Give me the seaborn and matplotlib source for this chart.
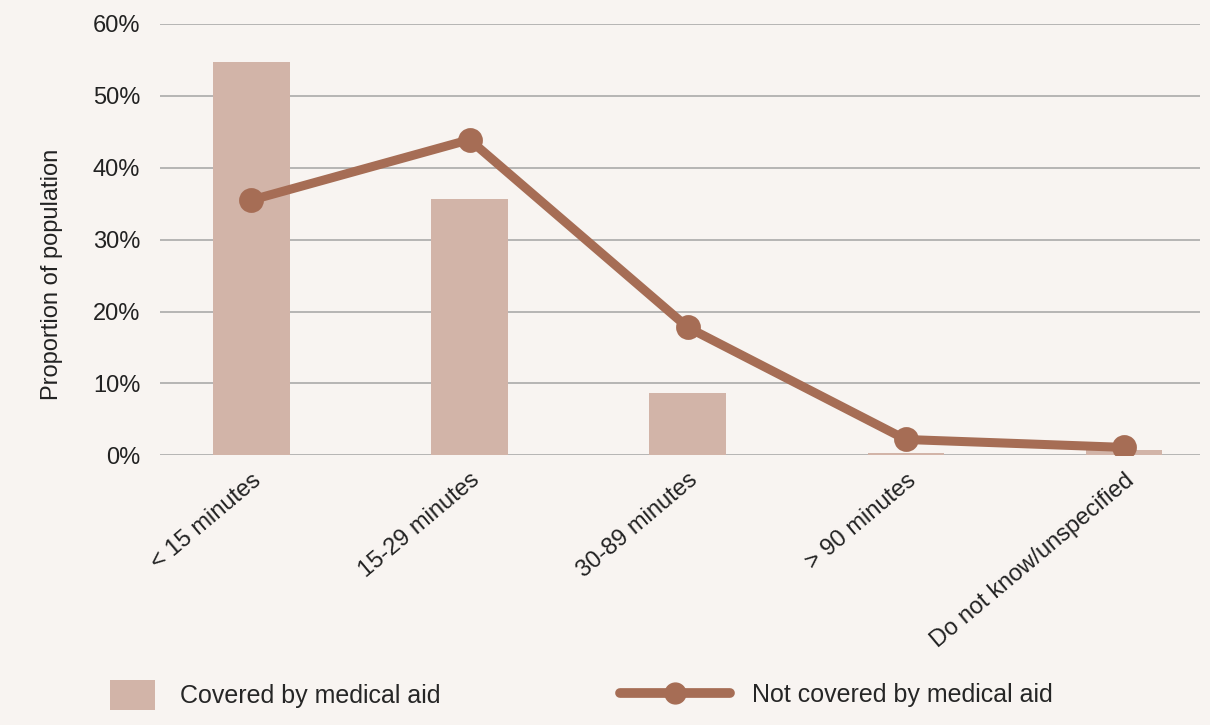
import seaborn as sns
import matplotlib.pyplot as plt
import pandas as pd
from matplotlib.patches import Patch
from matplotlib.lines import Line2D

categories = ["< 15 minutes", "15-29 minutes", "30-89 minutes", "> 90 minutes", "Do not know/unspecified"]
covered = [54.7, 35.7, 8.6, 0.3, 0.7]
not_covered = [35.5, 43.9, 17.8, 2.2, 1.1]
yticks = [0, 10, 20, 30, 40, 50, 60]

bg = "#f8f4f1"
bar_col = "#d2b4a8"
line_col = "#a66d55"
txt = "#222222"

sns.set_style("white")
plt.rcParams["font.family"] = ["Liberation Sans", "DejaVu Sans"]

df = pd.DataFrame({"cat": categories, "covered": covered, "not_covered": not_covered})

fig = plt.figure(figsize=(12.1, 7.25), dpi=100, facecolor=bg)
ax = fig.add_axes([0.132, 0.372, 0.86, 0.595])
ax.set_facecolor(bg)

sns.barplot(data=df, x="cat", y="covered", color=bar_col, width=0.35, saturation=1,
            linewidth=0, ax=ax, zorder=2)
sns.pointplot(data=df, x="cat", y="not_covered", color=line_col, markers="o",
              markersize=13, linewidth=6.5, ax=ax, zorder=3)

ax.set_ylim(0, 60)
ax.set_xlim(-0.42, 4.35)
ax.set_yticks(yticks)
ax.set_yticklabels([f"{v}%" for v in yticks], fontsize=17, color=txt)
ax.set_xticks(range(len(categories)))
ax.set_xticklabels(categories, rotation=40, ha="right", rotation_mode="anchor",
                   fontsize=17, color=txt)
ax.tick_params(axis="y", length=0, pad=14)
ax.tick_params(axis="x", length=0, pad=10)
ax.set_xlabel("")
ax.set_ylabel("Proportion of population", fontsize=17, color=txt)
ax.yaxis.set_label_coords(-0.093, 0.42)
ax.grid(axis="y", color="#aaaaaa", linewidth=1.2, zorder=0)
ax.set_axisbelow(True)
sns.despine(ax=ax, left=True, bottom=True)

leg_y = 1 - 695 / 725
leg1 = fig.legend(handles=[Patch(facecolor=bar_col, edgecolor="none", label="Covered by medical aid")],
                  loc="center left", bbox_to_anchor=(110 / 1210, leg_y), frameon=False,
                  fontsize=18, handlelength=1.8, handleheight=1.45, handletextpad=1.0,
                  borderpad=0, borderaxespad=0)
leg2 = fig.legend(handles=[Line2D([0], [0], color=line_col, linewidth=7, marker="o", markersize=15,
                                  label="Not covered by medical aid")],
                  loc="center left", bbox_to_anchor=(620 / 1210, leg_y), frameon=False,
                  fontsize=18, handlelength=4.4, handletextpad=0.9, numpoints=1,
                  borderpad=0, borderaxespad=0)

fig.savefig("out.png", dpi=100, facecolor=bg)
